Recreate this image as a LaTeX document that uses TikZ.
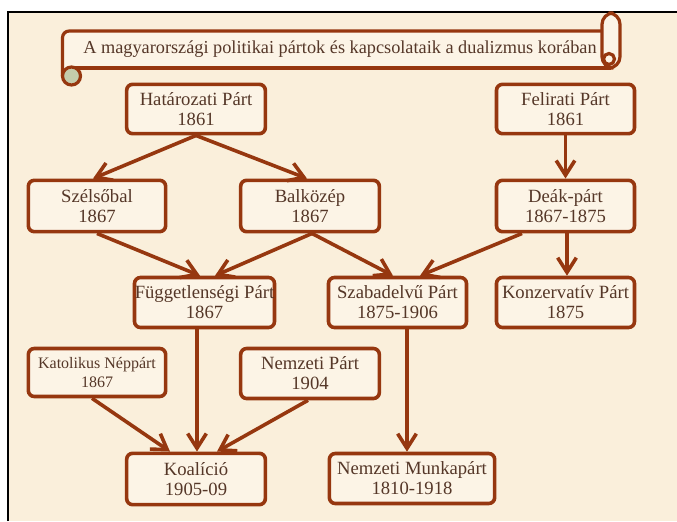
\documentclass[tikz,border=0pt]{standalone}
\usepackage{fontspec}
\setmainfont{Liberation Serif}
\usetikzlibrary{arrows.meta,calc}
\definecolor{brn}{RGB}{150,55,15}
\definecolor{parch}{RGB}{250,239,219}
\definecolor{boxfill}{RGB}{252,244,230}
\definecolor{txt}{RGB}{85,55,40}
\definecolor{curlc}{RGB}{196,204,172}
\begin{document}
\begin{tikzpicture}[x=0.75pt,y=-0.75pt,
 pbox/.style={draw=brn, line width=2.7pt, rounded corners=4.5pt, fill=boxfill, text=txt, align=center, inner sep=0pt, minimum height=37pt, font=\fontsize{14}{15}\selectfont},
 conn/.style={draw=brn, line width=2.7pt, -{Straight Barb[length=11pt,width=14pt]}},
 bann/.style={draw=brn, line width=2.4pt},
]
\useasboundingbox (0,0) rectangle (677,521);
\fill[white] (0,0) rectangle (677,521);
\fill[parch] (8,12) rectangle (677,521);
\draw[black, line width=1.5pt] (8,521) -- (8,12) -- (677,12);
% banner
\fill[boxfill] (62.5,31) rectangle (611,68);
\draw[bann, rounded corners=5pt] (62.5,76) -- (62.5,31) -- (605,31);
\draw[bann] (71,68) -- (611,68);
\draw[bann, fill=curlc] (71.5,76) circle (9);
\draw[bann, fill=boxfill, rounded corners=8.5pt] (602,13) rectangle (620,68);
\draw[bann, fill=boxfill] (609,59) circle (5.5);
\node[font=\fontsize{13.7}{16}\selectfont, text=txt, inner sep=0pt] (title) at (340,49) {A magyarországi politikai pártok és kapcsolataik a dualizmus korában};
% nodes
\node[pbox, minimum width=104pt] (hat) at (196,109) {Határozati Párt\\1861};
\node[pbox, minimum width=103.5pt] (fel) at (565.5,109) {Felirati Párt\\1861};
\node[pbox, minimum width=103pt, minimum height=38.5pt] (sze) at (97,206) {Szélsőbal\\1867};
\node[pbox, minimum width=104pt, minimum height=38.5pt] (bal) at (310,206) {Balközép\\1867};
\node[pbox, minimum width=103.5pt, minimum height=38.5pt] (dea) at (565.5,206) {Deák-párt\\1867-1875};
\node[pbox, minimum width=105pt, minimum height=37.5pt] (fug) at (204.5,302.5) {Függetlenségi Párt\\1867};
\node[pbox, minimum width=103.5pt, minimum height=37.5pt] (szab) at (397.5,302.5) {Szabadelvű Párt\\1875-1906};
\node[pbox, minimum width=103.5pt, minimum height=37.5pt] (kon) at (565.5,302.5) {Konzervatív Párt\\1875};
\node[pbox, minimum width=103pt, minimum height=36pt, font=\fontsize{12}{14}\selectfont] (kat) at (97,372.5) {Katolikus Néppárt\\1867};
\node[pbox, minimum width=104pt, minimum height=37.5pt] (nemp) at (310,373.5) {Nemzeti Párt\\1904};
\node[pbox, minimum width=104pt, minimum height=38.5pt] (koa) at (196,479) {Koalíció\\1905-09};
\node[pbox, minimum width=124pt, minimum height=37.5pt] (nmp) at (412,478.5) {Nemzeti Munkapárt\\1810-1918};
% connectors
\draw[conn] (hat.south) -- ($(sze.north)+(-4,0)$);
\draw[conn] (hat.south) -- ($(bal.north)+(-3,0)$);
\draw[conn] (fel.south) -- (dea.north);
\draw[conn] (sze.south) -- ($(fug.north)+(-4.5,0)$);
\draw[conn] ($(bal.south)+(2,0)$) -- ($(fug.north)+(10.5,0)$);
\draw[conn] ($(bal.south)+(2,0)$) -- ($(szab.north)+(-4.5,0)$);
\draw[conn] ($(dea.south)+(-43.5,0)$) -- ($(szab.north)+(22.5,0)$);
\draw[conn] ($(dea.south)+(1.5,0)$) -- ($(kon.north)+(1.5,0)$);
\draw[conn] ($(fug.south)+(-7.5,0)$) -- ($(koa.north)+(1,0)$);
\draw[conn] ($(kat.south)+(-5,0)$) -- ($(koa.north)+(-26,0)$);
\draw[conn] ($(nemp.south)+(-2,0)$) -- ($(koa.north)+(21,0)$);
\draw[conn] ($(szab.south)+(9.5,0)$) -- ($(nmp.north)+(-5,0)$);
\end{tikzpicture}
\end{document}
